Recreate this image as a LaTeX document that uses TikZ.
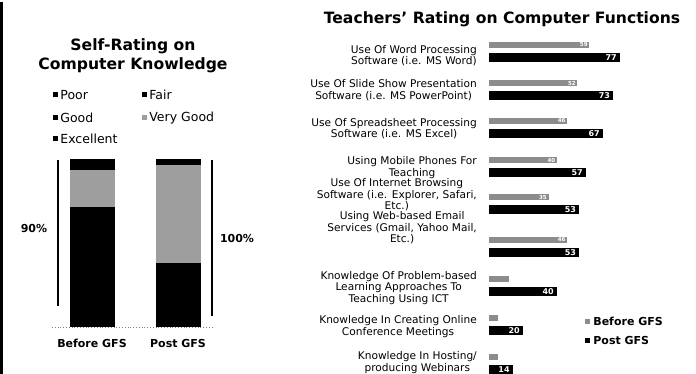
\documentclass[tikz,border=0pt]{standalone}
\usepackage{fontspec}
\setmainfont{DejaVu Sans}
\usetikzlibrary{positioning}
\definecolor{vgood}{gray}{0.62}
\definecolor{before}{gray}{0.55}
\tikzset{
  title/.style={font=\bfseries\fontsize{15.6}{19}\selectfont, align=center},
  keytext/.style={font=\fontsize{12.5}{15}\selectfont, anchor=west, inner sep=1pt},
  keybox/.style={minimum size=5pt, inner sep=0pt},
  task/.style={font=\fontsize{10.6}{11.6}\selectfont, align=center, anchor=east, inner sep=0pt},
  axis/.style={font=\bfseries\fontsize{11}{13}\selectfont},
  postnum/.style={font=\bfseries\fontsize{8}{9}\selectfont, text=white, anchor=east, inner sep=1pt},
  prenum/.style={font=\bfseries\fontsize{5.5}{6}\selectfont, text=white, anchor=east, inner sep=0.5pt}
}
\begin{document}
\begin{tikzpicture}[x=1pt, y=-1pt]
	\useasboundingbox (0,0) rectangle (696,374);
	\fill (0,2) rectangle (3,374);
	% self-rating
	\node [title] (selftitle) at (133,56) {Self-Rating on\\Computer Knowledge};
	\node [keybox, fill=black] (kpoor) at (55.5,95) {};
	\node [keytext, right=1pt of kpoor] (tpoor) {Poor};
	\node [keybox, fill=black] (kfair) at (144.5,95) {};
	\node [keytext, right=1pt of kfair] (tfair) {Fair};
	\node [keybox, fill=black] (kgood) at (55.5,118) {};
	\node [keytext, right=1pt of kgood] (tgood) {Good};
	\node [keybox, fill=vgood] (kvgood) at (144.5,118) {};
	\node [keytext, right=1pt of kvgood] (tvgood) {Very Good};
	\node [keybox, fill=black] (kexc) at (55.5,139) {};
	\node [keytext, right=1pt of kexc] (texc) {Excellent};
	\draw [gray, dotted, line width=0.8pt] (52,327) -- (214,327);
	\fill (70,327) rectangle (115,207);
	\fill [vgood] (70,207) rectangle (115,170);
	\fill (70,170) rectangle (115,159);
	\fill (156,327) rectangle (201,263);
	\fill [vgood] (156,263) rectangle (201,165);
	\fill (156,165) rectangle (201,159);
	\draw [line width=1.2pt] (58,160) -- (58,306);
	\draw [line width=1.2pt] (212,160) -- (212,316);
	\node [axis] (pre) at (34,228) {90\%};
	\node [axis] (post) at (237,238) {100\%};
	\node [axis] (prelab) at (92,343) {Before GFS};
	\node [axis] (postlab) at (178,343) {Post GFS};
	% teachers' rating
	\node [title] (fntitle) at (502,19) {Teachers' Rating on Computer Functions};
	\foreach \lab/\pre/\post/\t/\ly [count=\i] in {
		{Use Of Word Processing\\Software (i.e. MS Word)}/59/77/42/55.5,
		{Use Of Slide Show Presentation\\Software (i.e. MS PowerPoint)}/52/73/80/90,
		{Use Of Spreadsheet Processing\\Software (i.e. MS Excel)}/46/67/118/128.5,
		{Using Mobile Phones For\\Teaching}/40/57/157/167.5,
		{Use Of Internet Browsing\\Software (i.e. Explorer, Safari,\\Etc.)}/35/53/194/195,
		{Using Web-based Email\\Services (Gmail, Yahoo Mail,\\Etc.)}/46/53/237/228,
		{Knowledge Of Problem-based\\Learning Approaches To\\Teaching Using ICT}/12/40/276/288,
		{Knowledge In Creating Online\\Conference Meetings}/5/20/315/326.5,
		{Knowledge In Hosting/\\producing Webinars}/5/14/354/362.5} {
		\node [task] (task\i) at (477,\ly) {\lab};
		\fill [before] (489,\t) rectangle ({489+1.7*\pre},\t+6);
		\fill (489,\t+11) rectangle ({489+1.7*\post},\t+20);
		\node [postnum] (pv\i) at ({489+1.7*\post-2},\t+15.5) {\post};
		\ifnum\pre>20
			\node [prenum] (bv\i) at ({489+1.7*\pre-1},\t+3) {\pre};
		\fi
	}
	\node [keybox, fill=before] (kbefore) at (587.5,321) {};
	\node [keytext, axis, right=2pt of kbefore] (tbefore) {Before GFS};
	\node [keybox, fill=black] (kpost) at (587.5,340) {};
	\node [keytext, axis, right=2pt of kpost] (tpost) {Post GFS};
\end{tikzpicture}
\end{document}
